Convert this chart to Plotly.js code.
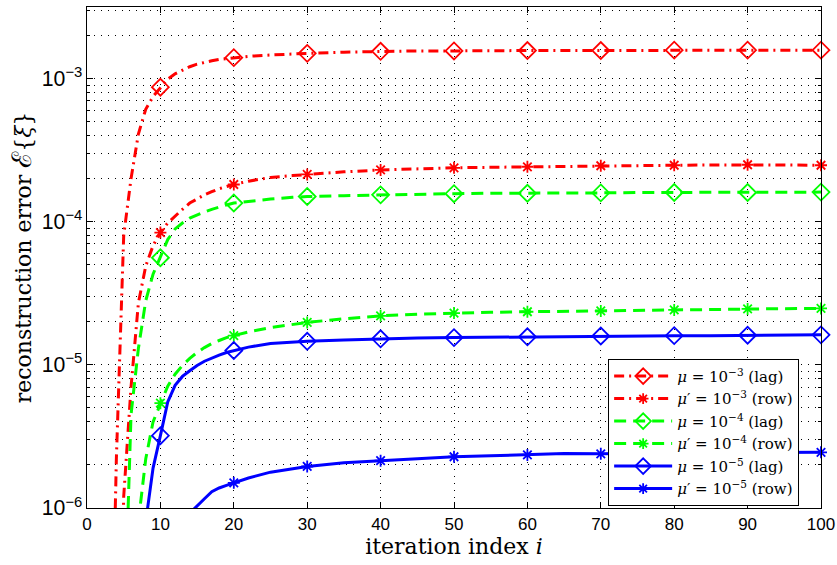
<!DOCTYPE html>
<html>
<head>
<meta charset="utf-8">
<script src="https://cdn.plot.ly/plotly-3.0.1.min.js"></script>
<style>html,body{margin:0;padding:0;background:#fff;}#chart{width:837px;height:565px;}</style>
</head>
<body>
<div id="chart"></div>
<script>
// iteration index
const iterations = [3,4,5,6,7,8,9,10,11,12,13,14,15,16,17,18,19,20,22,25,28,30,35,40,45,50,55,60,65,70,75,80,85,90,95,100];
// mu = 1e-3 (lag)
const errLag3 = [1e-8,2.2e-6,8e-5,2.0e-4,4.1e-4,6.1e-4,7.5e-4,8.7e-4,9.9e-4,1.08e-3,1.15e-3,1.21e-3,1.26e-3,1.30e-3,1.33e-3,1.36e-3,1.38e-3,1.40e-3,1.43e-3,1.46e-3,1.49e-3,1.50e-3,1.53e-3,1.55e-3,1.56e-3,1.56e-3,1.57e-3,1.57e-3,1.57e-3,1.57e-3,1.58e-3,1.58e-3,1.58e-3,1.58e-3,1.58e-3,1.58e-3];
// mu' = 1e-3 (row)
const errRow3 = [1e-9,1e-8,1.2e-6,7e-6,2.7e-5,4.9e-5,6.8e-5,8.4e-5,9.8e-5,1.1e-4,1.22e-4,1.35e-4,1.45e-4,1.54e-4,1.62e-4,1.70e-4,1.76e-4,1.82e-4,1.92e-4,2.04e-4,2.10e-4,2.14e-4,2.23e-4,2.30e-4,2.35e-4,2.38e-4,2.40e-4,2.42e-4,2.44e-4,2.46e-4,2.47e-4,2.48e-4,2.49e-4,2.50e-4,2.49e-4,2.48e-4];
// mu = 1e-4 (lag)
const errLag4 = [1e-9,1e-9,1e-7,4.5e-6,1.3e-5,2.8e-5,4.3e-5,5.6e-5,7.5e-5,8.9e-5,9.8e-5,1.06e-4,1.12e-4,1.17e-4,1.22e-4,1.27e-4,1.31e-4,1.35e-4,1.39e-4,1.44e-4,1.48e-4,1.50e-4,1.52e-4,1.54e-4,1.56e-4,1.57e-4,1.58e-4,1.58e-4,1.59e-4,1.59e-4,1.60e-4,1.60e-4,1.60e-4,1.60e-4,1.61e-4,1.61e-4];
// mu' = 1e-4 (row)
const errRow4 = [1e-9,1e-9,1e-9,1e-9,8e-7,2.2e-6,4.0e-6,5.4e-6,7.1e-6,8.6e-6,9.9e-6,1.11e-5,1.22e-5,1.32e-5,1.41e-5,1.48e-5,1.55e-5,1.60e-5,1.70e-5,1.82e-5,1.92e-5,1.98e-5,2.10e-5,2.20e-5,2.26e-5,2.30e-5,2.33e-5,2.35e-5,2.37e-5,2.38e-5,2.40e-5,2.42e-5,2.44e-5,2.46e-5,2.47e-5,2.48e-5];
// mu = 1e-5 (lag)
const errLag5 = [1e-9,1e-9,1e-9,1e-9,1e-9,8e-7,1.9e-6,3.2e-6,5.5e-6,7.2e-6,8.3e-6,9.1e-6,9.9e-6,1.06e-5,1.12e-5,1.17e-5,1.22e-5,1.26e-5,1.33e-5,1.41e-5,1.44e-5,1.46e-5,1.49e-5,1.52e-5,1.54e-5,1.55e-5,1.56e-5,1.57e-5,1.58e-5,1.59e-5,1.59e-5,1.60e-5,1.60e-5,1.61e-5,1.61e-5,1.62e-5];
// mu' = 1e-5 (row)
const errRow5 = [1e-9,1e-9,1e-9,1e-9,1e-9,1e-9,1e-9,1e-9,1e-9,5e-7,7.5e-7,9.2e-7,1.04e-6,1.16e-6,1.30e-6,1.38e-6,1.44e-6,1.50e-6,1.62e-6,1.78e-6,1.89e-6,1.95e-6,2.07e-6,2.14e-6,2.22e-6,2.28e-6,2.32e-6,2.35e-6,2.40e-6,2.39e-6,2.41e-6,2.42e-6,2.43e-6,2.44e-6,2.45e-6,2.45e-6];

const seriesNames = [
  '<i>μ</i> = 10<sup>−3</sup> (lag)',
  '<i>μ</i>′ = 10<sup>−3</sup> (row)',
  '<i>μ</i> = 10<sup>−4</sup> (lag)',
  '<i>μ</i>′ = 10<sup>−4</sup> (row)',
  '<i>μ</i> = 10<sup>−5</sup> (lag)',
  '<i>μ</i>′ = 10<sup>−5</sup> (row)'
];
const seriesData = [errLag3, errRow3, errLag4, errRow4, errLag5, errRow5];
const colors = ['#ff0000','#ff0000','#00ff00','#00ff00','#0000ff','#0000ff'];
const dashes = ['10px,5px,2px,5px','10px,5px,2px,5px','12px,7px','12px,7px','solid','solid'];
const symbols = ['diamond-open','asterisk-open','diamond-open','asterisk-open','diamond-open','asterisk-open'];
const msizes = [13,10,13,10,13,10];

const traces = [];
seriesData.forEach((ys, k) => {
  traces.push({x: iterations, y: ys, mode: 'lines', type: 'scatter', showlegend: false,
    line: {color: colors[k], width: 3, dash: dashes[k]}, hoverinfo: 'skip', cliponaxis: true});
  const mx = [], my = [];
  iterations.forEach((it, j) => { if (it % 10 === 0) { mx.push(it); my.push(ys[j]); } });
  traces.push({x: mx, y: my, mode: 'markers', type: 'scatter', showlegend: false, cliponaxis: false,
    marker: {symbol: symbols[k], size: msizes[k], color: colors[k], line: {color: colors[k], width: 1.8}}});
});
seriesData.forEach((ys, k) => {
  traces.push({x: [null], y: [null], mode: 'lines+markers', type: 'scatter', name: seriesNames[k],
    line: {color: colors[k], width: 3, dash: dashes[k]},
    marker: {symbol: symbols[k], size: msizes[k] - 1, color: colors[k], line: {color: colors[k], width: 1.8}}});
});

const gridDash = '1px,6px';
const layout = {
  width: 837, height: 565,
  margin: {l: 87, r: 16, t: 7, b: 57},
  paper_bgcolor: '#fff', plot_bgcolor: '#fff',
  font: {family: 'Liberation Sans, Arial, sans-serif', size: 17, color: '#000'},
  xaxis: {
    range: [0, 100], dtick: 10, tick0: 0,
    showline: true, linecolor: '#000', linewidth: 1.2, mirror: 'ticks',
    ticks: 'inside', ticklen: 6, tickcolor: '#000',
    showgrid: true, gridcolor: '#000', gridwidth: 1, griddash: gridDash,
    zeroline: false,
    tickfont: {family: 'Liberation Sans, Arial, sans-serif', size: 17},
    title: {text: 'iteration index <i>i</i>', font: {family: 'DejaVu Serif, Liberation Serif, serif', size: 22}, standoff: 3}
  },
  yaxis: {
    type: 'log', range: [-6, -2.5], dtick: 1,
    exponentformat: 'power',
    showline: true, linecolor: '#000', linewidth: 1.2, mirror: 'ticks',
    ticks: 'inside', ticklen: 6, tickcolor: '#000',
    showgrid: true, gridcolor: '#000', gridwidth: 1, griddash: gridDash,
    zeroline: false,
    minor: {dtick: 'D1', ticks: 'inside', ticklen: 3, tickcolor: '#000', showgrid: true, gridcolor: '#000', gridwidth: 1, griddash: gridDash},
    tickfont: {family: 'Liberation Sans, Arial, sans-serif', size: 17},
    title: {text: 'reconstruction error <span style="font-size:27px">ℰ</span>{<i>ξ</i>}', font: {family: 'DejaVu Serif, Liberation Serif, serif', size: 22}, standoff: 4}
  },
  legend: {
    x: 0.71, y: 0.151, xanchor: 'left', yanchor: 'middle',
    bgcolor: '#fff', bordercolor: '#000', borderwidth: 1,
    font: {family: 'DejaVu Serif, Liberation Serif, serif', size: 15},
    itemwidth: 58, tracegroupgap: 0
  }
};
Plotly.newPlot('chart', traces, layout, {displayModeBar: false, staticPlot: true});
</script>
</body>
</html>
